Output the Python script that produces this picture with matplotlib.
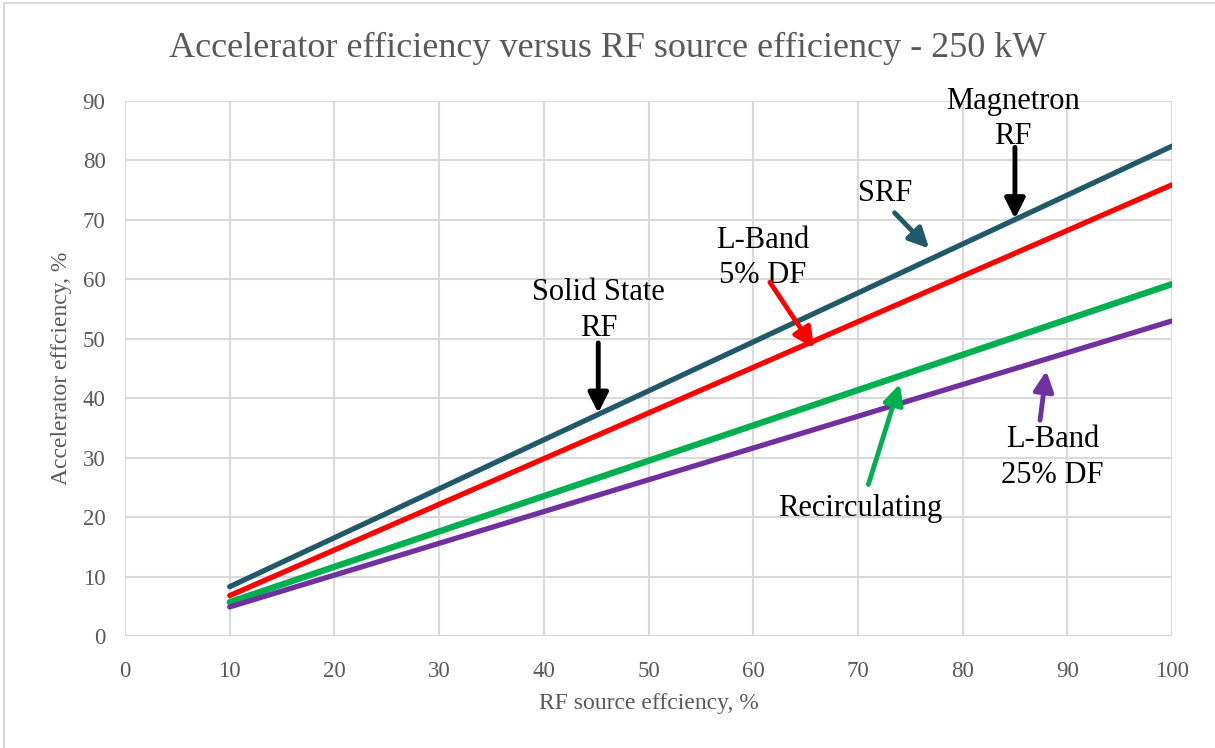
import matplotlib.pyplot as plt
from matplotlib.patches import Rectangle

# data
rf_eff = [10, 100]
srf = [8.3, 82.4]
lband_5 = [6.8, 75.9]
recirc = [5.7, 59.2]
lband_25 = [4.9, 53.0]

series = [
    (srf, '#215968', 3.8),
    (lband_5, '#ff0000', 3.8),
    (recirc, '#00b050', 4.6),
    (lband_25, '#7030a0', 3.8),
]

grey = '#595959'
serif = 'Liberation Serif'

fig = plt.figure(figsize=(12.15, 7.48), dpi=100)
ax = fig.add_axes([0.1029, 0.1497, 0.8617, 0.7153])

for y, c, lw in series:
    ax.plot(rf_eff, y, color=c, lw=lw, solid_capstyle='round', zorder=3)

ax.set_xlim(0, 100)
ax.set_ylim(0, 90)
ax.set_xticks(range(0, 101, 10))
ax.set_yticks(range(0, 91, 10))
ax.grid(True, color='#d9d9d9', lw=1.5)
ax.set_axisbelow(True)
for s in ax.spines.values():
    s.set_visible(False)
ax.tick_params(length=0, labelsize=16.5, labelcolor=grey)
ax.tick_params(axis='x', pad=18)
ax.tick_params(axis='y', pad=14)
for lab in ax.get_xticklabels() + ax.get_yticklabels():
    lab.set_family(serif)

ax.set_xlabel('RF source effciency, %', fontsize=17, color=grey, family=serif, labelpad=8)
ax.set_ylabel('Accelerator effciency, %', fontsize=17, color=grey, family=serif, labelpad=8)

fig.text(0.5, 0.935, 'Accelerator efficiency versus RF source efficiency - 250 kW',
         ha='center', va='center', fontsize=26, color=grey, family=serif)

# annotations: (text, text pos, arrow tail, arrow head, colour)
notes = [
    ('Magnetron\nRF', (84.8, 87.0), (85.0, 82.2), (85.0, 70.2), 'black'),
    ('SRF', (72.6, 74.4), (73.5, 71.2), (76.8, 65.2), '#215968'),
    ('L-Band\n5% DF', (60.9, 63.6), (61.6, 59.5), (65.8, 48.4), '#ff0000'),
    ('Solid State\nRF', (45.2, 54.8), (45.2, 49.3), (45.2, 37.5), 'black'),
    ('Recirculating', (70.2, 21.5), (71.0, 25.5), (74.0, 42.4), '#00b050'),
    ('L-Band\n25% DF', (88.6, 30.0), (87.4, 36.3), (88.0, 44.6), '#7030a0'),
]
for txt, tpos, tail, head, c in notes:
    ax.text(tpos[0], tpos[1], txt, ha='center', va='center', fontsize=22,
            family=serif, linespacing=1.3, zorder=5)
    ax.annotate('', xy=head, xytext=tail,
                arrowprops=dict(arrowstyle='-|>', color=c, lw=3.5,
                                mutation_scale=30, shrinkA=0, shrinkB=0),
                zorder=5)

# chart border
fig.patches.append(Rectangle((0.003, -0.01), 1.2, 1.006, transform=fig.transFigure,
                             fill=False, ec='#d9d9d9', lw=1.5))

fig.savefig('out.png', dpi=100)
